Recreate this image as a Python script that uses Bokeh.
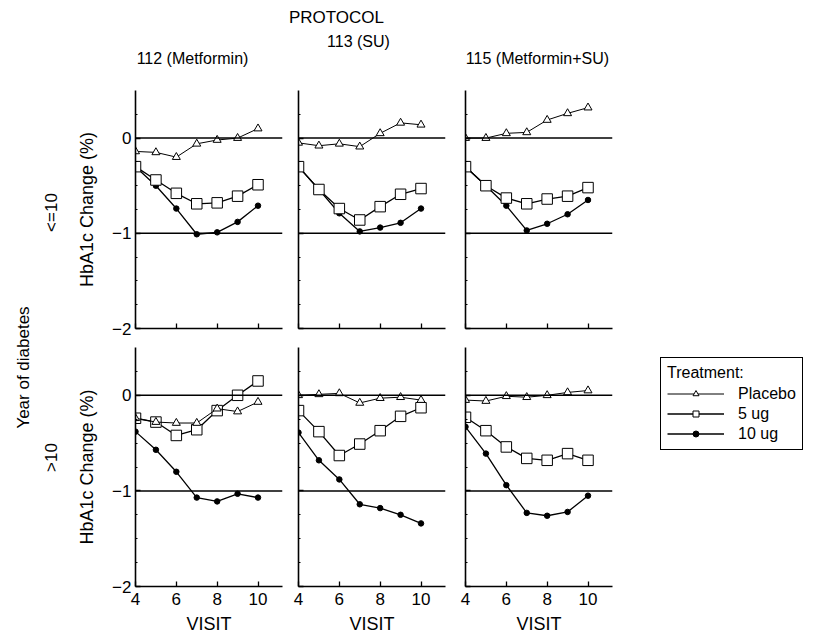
import math
from bokeh.plotting import figure
from bokeh.models import (Range1d, FixedTicker, Span, Label, Legend, LegendItem,
                          ColumnDataSource)
from bokeh.layouts import row, column
from bokeh.embed import file_html
from bokeh.resources import INLINE

FONT = "Liberation Sans"

# ---------------- data ----------------
visits = [4, 5, 6, 7, 8, 9, 10]
protocols = ["112 (Metformin)", "113 (SU)", "115 (Metformin+SU)"]
duration_groups = ["<=10", ">10"]
treatments = ["Placebo", "5 ug", "10 ug"]

# years of diabetes <= 10
p112_le10_placebo = [-0.14, -0.15, -0.20, -0.06, -0.02, 0.00, 0.10]
p112_le10_5ug = [-0.30, -0.44, -0.58, -0.69, -0.68, -0.61, -0.49]
p112_le10_10ug = [-0.30, -0.50, -0.74, -1.01, -0.99, -0.88, -0.71]

p113_le10_placebo = [-0.05, -0.08, -0.06, -0.09, 0.05, 0.16, 0.14]
p113_le10_5ug = [-0.30, -0.54, -0.74, -0.86, -0.72, -0.59, -0.53]
p113_le10_10ug = [-0.30, -0.54, -0.79, -0.98, -0.94, -0.89, -0.74]

p115_le10_placebo = [0.00, 0.00, 0.05, 0.06, 0.19, 0.26, 0.32]
p115_le10_5ug = [-0.30, -0.50, -0.63, -0.69, -0.64, -0.61, -0.52]
p115_le10_10ug = [-0.30, -0.50, -0.71, -0.97, -0.90, -0.80, -0.65]

# years of diabetes > 10
p112_gt10_placebo = [-0.24, -0.28, -0.29, -0.29, -0.14, -0.17, -0.07]
p112_gt10_5ug = [-0.24, -0.28, -0.42, -0.36, -0.16, 0.00, 0.15]
p112_gt10_10ug = [-0.38, -0.57, -0.80, -1.07, -1.11, -1.03, -1.07]

p113_gt10_placebo = [0.00, 0.01, 0.02, -0.08, -0.03, -0.02, -0.05]
p113_gt10_5ug = [-0.16, -0.38, -0.63, -0.51, -0.37, -0.22, -0.13]
p113_gt10_10ug = [-0.39, -0.68, -0.88, -1.14, -1.18, -1.25, -1.34]

p115_gt10_placebo = [-0.05, -0.06, -0.01, -0.02, 0.00, 0.03, 0.05]
p115_gt10_5ug = [-0.23, -0.37, -0.54, -0.66, -0.68, -0.61, -0.68]
p115_gt10_10ug = [-0.33, -0.61, -0.94, -1.23, -1.26, -1.22, -1.05]

x_ticks = [4, 6, 8, 10]
y_ticks = [-2, -1, 0]
ref_levels = [0, -1]

panel_data = [
    [(p112_le10_placebo, p112_le10_5ug, p112_le10_10ug),
     (p113_le10_placebo, p113_le10_5ug, p113_le10_10ug),
     (p115_le10_placebo, p115_le10_5ug, p115_le10_10ug)],
    [(p112_gt10_placebo, p112_gt10_5ug, p112_gt10_10ug),
     (p113_gt10_placebo, p113_gt10_5ug, p113_gt10_10ug),
     (p115_gt10_placebo, p115_gt10_5ug, p115_gt10_10ug)],
]

# styles per treatment: placebo, 5 ug, 10 ug
STYLES = [
    dict(marker="triangle", size=8, fill="white", lw=1.0),
    dict(marker="square", size=10.5, fill="white", lw=1.3),
    dict(marker="circle", size=5.5, fill="black", lw=1.3),
]


def base_fig(width, height, **kw):
    opts = dict(min_border=0)
    opts.update(kw)
    p = figure(width=width, height=height, output_backend="svg",
               toolbar_location=None, x_axis_type=None, y_axis_type=None,
               x_range=Range1d(0, 1), y_range=Range1d(0, 1), **opts)
    p.outline_line_color = None
    p.xgrid.visible = False
    p.ygrid.visible = False
    return p


def hide_labels(ax):
    ax.major_label_text_font_size = "0px"
    ax.major_label_text_color = None


def panel(r, c):
    borders_lr = [(65, 8), (8, 8), (12, 8)][c]
    borders_tb = [(15, 14), (5, 56)][r]
    p = figure(frame_width=147, frame_height=238 if r == 0 else 239,
               x_range=Range1d(4, 11.2), y_range=Range1d(-2, 0.5),
               output_backend="svg", toolbar_location=None,
               min_border_left=borders_lr[0], min_border_right=borders_lr[1],
               min_border_top=borders_tb[0], min_border_bottom=borders_tb[1])
    p.outline_line_color = None
    p.xgrid.visible = False
    p.ygrid.visible = False
    p.background_fill_color = "white"

    p.xaxis.ticker = FixedTicker(ticks=x_ticks)
    p.yaxis.ticker = FixedTicker(ticks=y_ticks,
                                 minor_ticks=[-1.75, -1.5, -1.25, -0.75, -0.5, -0.25, 0.25])
    for ax in (p.xaxis[0], p.yaxis[0]):
        ax.axis_line_width = 1.6
        ax.axis_line_color = "black"
        ax.major_tick_in = 5
        ax.major_tick_out = 0
        ax.major_tick_line_width = 1.3
        ax.minor_tick_in = 2
        ax.minor_tick_out = 0
        ax.major_label_text_font = FONT
        ax.major_label_text_font_size = "17px"
        ax.major_label_text_color = "black"
        ax.axis_label_text_font = FONT
        ax.axis_label_text_font_size = "18px"
        ax.axis_label_text_font_style = "normal"
        ax.axis_label_text_color = "black"
    p.xaxis.major_label_standoff = 6
    p.xaxis.axis_label_standoff = 6
    p.yaxis.major_label_standoff = 4
    p.yaxis.axis_label_standoff = 12

    if c == 0:
        p.yaxis.axis_label = "HbA1c Change (%)"
    else:
        hide_labels(p.yaxis[0])
    if r == 1:
        p.xaxis.axis_label = "VISIT"
    else:
        hide_labels(p.xaxis[0])

    for lv in ref_levels:
        p.add_layout(Span(location=lv, dimension="width", line_color="black",
                          line_width=1.5))

    series = panel_data[r][c]
    for k in (2, 1, 0):
        st = STYLES[k]
        p.line(visits, series[k], line_color="black", line_width=st["lw"])
        p.scatter(visits, series[k], marker=st["marker"], size=st["size"],
                  fill_color=st["fill"], line_color="black", line_width=1)
    return p


panels = [[panel(r, c) for c in range(3)] for r in range(2)]

# ---------------- header with titles ----------------
header = base_fig(815, 75)
title_pos = [(192, 17), (358, 34), (537, 17)]
header.add_layout(Label(x=336, y=58, x_units="screen", y_units="screen", text="PROTOCOL",
                        text_font=FONT, text_font_size="17px", text_align="center",
                        text_baseline="middle", text_color="black"))
for name, (tx, ty) in zip(protocols, title_pos):
    header.add_layout(Label(x=tx, y=ty, x_units="screen", y_units="screen", text=name,
                            text_font=FONT, text_font_size="16px", text_align="center",
                            text_baseline="middle", text_color="black"))

# ---------------- left labels ----------------
left = base_fig(70, 567)
left.add_layout(Label(x=23, y=275, x_units="screen", y_units="screen",
                      text="Year of diabetes", angle=math.pi / 2,
                      text_font=FONT, text_font_size="17px", text_align="center",
                      text_baseline="middle", text_color="black"))
for name, ty in zip(duration_groups, [430, 185]):
    left.add_layout(Label(x=51, y=ty, x_units="screen", y_units="screen",
                          text=name, angle=math.pi / 2,
                          text_font=FONT, text_font_size="17px", text_align="center",
                          text_baseline="middle", text_color="black"))

# ---------------- legend ----------------
legfig = base_fig(195, 295, min_border_left=30)
items = []
nan = float("nan")
for k, name in enumerate(treatments):
    st = STYLES[k]
    # legend-only renderers: a single undefined point, nothing is drawn in the plot
    src = ColumnDataSource(data=dict(x=[nan], y=[nan]))
    lr = legfig.line("x", "y", source=src, line_color="black", line_width=st["lw"])
    sr = legfig.scatter("x", "y", source=src, marker=st["marker"], size=st["size"],
                        fill_color=st["fill"], line_color="black", line_width=1)
    items.append(LegendItem(label=name, renderers=[lr, sr]))
legend = Legend(items=items, location="top_left", title="Treatment:",
                title_text_font=FONT, title_text_font_size="16px",
                title_text_font_style="normal", title_text_color="black",
                label_text_font=FONT, label_text_font_size="16px",
                label_text_color="black",
                glyph_width=57, glyph_height=15, label_height=19, spacing=1,
                padding=6, margin=10, label_standoff=14, title_standoff=2,
                border_line_color="black", border_line_width=1.5,
                border_line_alpha=1.0, background_fill_alpha=1.0)
legfig.add_layout(legend)

layout = column(
    header,
    row(left, column(row(*panels[0]), row(*panels[1], legfig))),
)

open("out.html", "w").write(file_html(layout, INLINE))
